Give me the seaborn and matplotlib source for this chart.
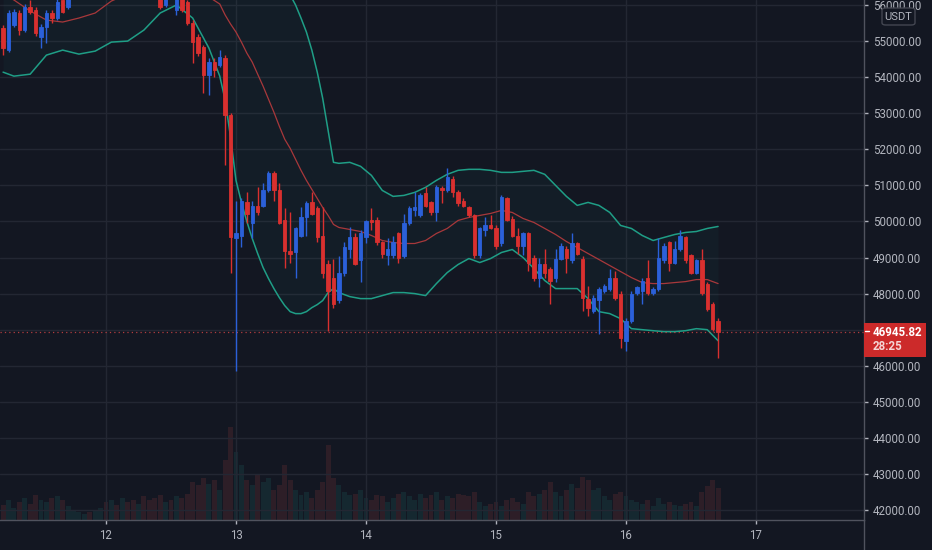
import numpy as np
import pandas as pd
import matplotlib
matplotlib.use("Agg")
import matplotlib.pyplot as plt
import seaborn as sns
from matplotlib.patches import Rectangle, FancyBboxPatch
from matplotlib.lines import Line2D

# ---------------- data ----------------
first_candle_day = 11 + 5 / 24.0   # hourly candles, first one: day 11, 05:00

opens = [55360, 54750, 55440, 55780, 55310, 55940, 55860, 55110, 55390, 55780, 55640, 56140, 55940,
         56200, 56360, 56470, 56640, 56560, 56750, 56830, 56690, 56920, 56810, 56970, 56860, 56690, 56750,
         56560, 56470, 56310, 56000, 56360, 55860, 56220, 56080, 55500, 55110, 54830, 54060, 54420, 54330,
         54530, 52950, 49530, 49610, 50530, 49970, 50440, 50440, 50860, 51330, 50860, 50030, 49190, 49140,
         49610, 50110, 50530, 50360, 49610, 48830, 48440, 47810, 48560, 49250, 49560, 48920, 49560, 50030,
         50030, 49420, 49060, 49060, 49670, 49050, 49970, 50310, 50170, 50780, 50530, 50250, 50920, 50860,
         51190, 50810, 50580, 50390, 50170, 49060, 49750, 49890, 49830, 49390, 50640, 50080, 49610, 49330,
         49670, 49000, 48440, 48830, 48690, 48420, 48970, 49250, 48920, 49390, 48970, 47860, 47530, 47810,
         48080, 48140, 48420, 48000, 46690, 47250, 48030, 48080, 48420, 48030, 48140, 48920, 49420, 48860,
         49250, 49560, 49060, 48580, 48920, 48280, 47720, 47250]
highs = [55440, 55860, 55890, 55860, 56030, 56140, 55940, 55470, 55860, 55860, 56200, 56250, 56310,
         56420, 56540, 56700, 56720, 56820, 56900, 56880, 56980, 56990, 57050, 57020, 56900, 56820, 56800,
         56620, 56530, 56420, 56470, 56530, 56360, 56310, 56140, 55580, 55200, 54890, 54530, 54530, 54750,
         54610, 53000, 50580, 50640, 50810, 50580, 50950, 51060, 51390, 51390, 51060, 50360, 50250, 49860,
         50390, 50580, 50810, 50440, 50390, 48920, 48970, 49030, 49420, 49860, 49690, 49750, 50030, 50360,
         50110, 49470, 49530, 49610, 49720, 50220, 50420, 50810, 50780, 50950, 50580, 51000, 50970, 51470,
         51250, 50860, 50640, 50440, 50220, 49860, 50110, 50170, 49890, 50720, 50690, 50140, 49830, 49720,
         49720, 49060, 49000, 49250, 48750, 49250, 49390, 49310, 49690, 49440, 49030, 48220, 47950, 48190,
         48280, 48690, 48640, 48060, 47310, 48060, 48220, 48420, 48920, 48190, 49530, 49390, 49470, 49470,
         49750, 49610, 49110, 48970, 49250, 48330, 47780, 47310]
lows = [54610, 54690, 55390, 55170, 55250, 55750, 55140, 54810, 54950, 55500, 55580, 55780, 55890,
        56180, 56300, 56410, 56500, 56500, 56690, 56620, 56640, 56740, 56760, 56790, 56630, 56610, 56490,
        56400, 56250, 55890, 55940, 56170, 55720, 55810, 55440, 54390, 54580, 53560, 53500, 54000, 54280,
        51560, 48560, 45860, 49280, 49970, 49530, 50190, 50390, 50810, 50580, 49920, 48720, 48860, 48440,
        49560, 49610, 50170, 49420, 48420, 46970, 47610, 47750, 48500, 49000, 48780, 48310, 49390, 49750,
        49360, 49000, 48780, 49000, 48860, 49000, 49890, 50140, 50110, 50390, 50190, 50000, 50500, 50810,
        50670, 50440, 50390, 50110, 49000, 49000, 49610, 49780, 49250, 49330, 50000, 49560, 49110, 49060,
        48640, 48360, 48170, 48440, 47720, 48310, 48920, 48560, 48860, 49060, 47530, 47390, 47470, 46890,
        48030, 48080, 47830, 46500, 46420, 47190, 47970, 47720, 47970, 47970, 48080, 48860, 48640, 48810,
        49190, 48860, 48530, 48530, 47970, 47530, 46970, 46220]
closes = [54810, 55780, 55800, 55310, 55940, 55800, 55220, 55390, 55780, 55640, 56080, 55800, 56200,
          56360, 56470, 56640, 56560, 56750, 56830, 56690, 56920, 56810, 56970, 56860, 56690, 56750, 56560,
          56470, 56310, 55940, 56360, 56250, 56220, 55860, 55500, 54970, 54670, 54060, 54420, 54190, 54560,
          52950, 49560, 49670, 50580, 50220, 50440, 50250, 50860, 51330, 50860, 49970, 49190, 49110, 49810,
          50110, 50500, 50220, 49560, 48580, 48080, 47720, 48580, 49280, 49560, 48830, 49690, 50000, 49990,
          49420, 49110, 49250, 49420, 49000, 49970, 50360, 50390, 50720, 50440, 50250, 50950, 50860, 51220,
          50810, 50500, 50440, 50170, 49060, 49810, 49890, 49830, 49330, 50670, 50030, 49610, 49330, 49670,
          48860, 48420, 48830, 48580, 48360, 48970, 49330, 49000, 49390, 49110, 47890, 47610, 47890, 48140,
          48220, 48440, 47890, 46780, 47250, 48000, 48170, 48360, 48030, 48140, 49000, 49330, 48860, 49250,
          49610, 48920, 48580, 48920, 48030, 47580, 47030, 46945.82]
volumes = [750, 1000, 600, 900, 1100, 800, 1250, 1000, 900, 1100, 1200, 1000, 700,
           500, 400, 300, 400, 500, 600,
           900, 1000, 750, 1100, 900, 1000, 800,
           1200, 1000, 1100, 1250, 900, 1000, 1200, 1100, 1300,
           1900, 1750, 2100, 1800, 2000, 1500,
           3000, 4650, 3400, 2750, 2000, 1750, 2250, 1900, 2100, 1500, 1750, 2750, 2000, 1500, 1250, 1400,
           1100, 1500, 1900, 3750,
           2100, 1750, 1400, 1250, 1300, 1500, 1100, 1000, 1250, 1200, 900, 1100, 1300, 1400, 1200, 1000,
           1300, 1100, 1250, 1400,
           1000, 1200, 1100, 1300, 1250, 1200, 1400, 900, 700, 800, 900, 700, 1000, 1100, 900, 800,
           1400, 1200, 1300, 1500,
           1900, 1400, 1200, 1500, 1800, 1600, 2150, 2000, 1500, 1600, 1200, 1000, 1300, 1400, 1200, 1000,
           900, 800, 1000, 700,
           1100, 800, 900, 750, 700, 800, 900, 700, 1400, 1700, 2000, 1600]

# Bollinger band readings (candle index, value)
band_idx = [0, 2, 5, 8, 11, 14, 17, 20, 23, 26, 29, 32, 35, 38,
            40, 41, 42, 43, 44, 45, 46, 47, 48, 49, 50, 51, 52, 53, 54, 55, 56, 57, 58, 59, 60, 61, 62,
            64, 66, 68, 70, 72, 74, 76, 78, 80, 82, 84, 86, 88, 90, 92, 94, 96, 98, 100, 102, 104, 106,
            108, 110, 112, 114, 116, 118, 120, 122, 124, 126, 128, 130, 132]
bb_upper = [58500, 58300, 57600, 56600, 56350, 56650, 56850, 57250, 57600, 57650, 57300, 57050, 57200, 57600,
            58000, 58100, 58400, 59300, 59400, 59300, 59300, 59050, 58800, 58350, 57900, 57400, 56900, 56280,
            56000, 55639, 55250, 54750, 54139, 53417, 52528, 51639, 51611,
            51639, 51528, 51278, 50861, 50695, 50722, 50806, 50945, 51139, 51306, 51417, 51445, 51445, 51417,
            51361, 51361, 51389, 51417, 51306, 51000, 50695, 50445, 50528, 50445, 50250, 49889, 49806, 49611,
            49472, 49556, 49639, 49695, 49722, 49806, 49861]
bb_middle = [56306, 56139, 55833, 55583, 55528, 55639, 55778, 56111, 56306, 56472, 56528, 56528, 56417, 56222,
             56028, 55722, 55472, 55250, 54972, 54667, 54417, 54083, 53750, 53389, 53028, 52639, 52278, 52028,
             51722, 51417, 51139, 50889, 50639, 50389, 50167, 49917, 49833,
             49778, 49722, 49611, 49472, 49417, 49389, 49389, 49472, 49667, 49806, 50028, 50111, 50167, 50222,
             50306, 50250, 50083, 49972, 49806, 49639, 49444, 49278, 49111, 48945, 48778, 48611, 48445, 48306,
             48278, 48278, 48306, 48333, 48389, 48389, 48278]
bb_lower = [54139, 54028, 54083, 54611, 54750, 54639, 54722, 54972, 55000, 55306, 55778, 56000, 55639, 54806,
            54028, 53361, 52330, 51139, 50528, 50000, 49528, 49111, 48722, 48417, 48139, 47889, 47667, 47500,
            47445, 47445, 47500, 47611, 47695, 47806, 48028, 48139, 48028,
            47917, 47861, 47861, 47945, 48028, 48028, 48000, 47945, 48278, 48583, 48806, 48972, 48861, 48972,
            49139, 49222, 49000, 48695, 48361, 48139, 48139, 48139, 47861, 47500, 47445, 47306, 47028, 47000,
            46972, 46945, 46945, 46972, 47028, 47000, 46694]

last_price = 46945.82
countdown = "28:25"
currency = "USDT"
price_ticks = list(range(42000, 56001, 1000))
day_ticks = [12, 13, 14, 15, 16, 17]
day_labels = ["12", "13", "14", "15", "16", "17"]

# ---------------- style ----------------
BG = "#131722"
GRID = "#232733"
AXLINE = "#50535e"
TXT = "#b2b5be"
UP = "#2b60d9"
DOWN = "#d9302f"
TEAL = "#1f9e86"
MID = "#a8383b"
VOL_UP = "#26a69a"
VOL_DN = "#ef5350"

sns.set_theme(style="dark", rc={"axes.facecolor": BG, "figure.facecolor": BG})
plt.rcParams["font.family"] = ["Roboto", "DejaVu Sans"]

W, H = 932, 550
fig = plt.figure(figsize=(W / 100, H / 100), dpi=100, facecolor=BG)
rect = [0, 1 - 520 / H, 864 / W, 520 / H]
ax_vol = fig.add_axes(rect)
ax = fig.add_axes(rect, sharex=ax_vol)

n = len(opens)
times = first_candle_day + np.arange(n) / 24.0
o = np.array(opens, float)
c = np.array(closes, float)
hi = np.array(highs, float)
lo = np.array(lows, float)
is_up = c >= o
cols = np.where(is_up, UP, DOWN)

# volume pane (behind)
ax_vol.set_facecolor(BG)
ax_vol.bar(times, volumes, width=0.9 / 24, color=np.where(is_up, VOL_UP, VOL_DN), alpha=0.12, linewidth=0)
ax_vol.set_ylim(0, 26000)
ax_vol.set_yticks([])
for s in ax_vol.spines.values():
    s.set_visible(False)
ax_vol.tick_params(axis="x", which="both", bottom=False, labelbottom=False)

# price pane
ax.set_facecolor("none")
band_t = first_candle_day + np.array(band_idx) / 24.0
bands = pd.DataFrame({"t": band_t, "upper": bb_upper, "middle": bb_middle, "lower": bb_lower})
ax.fill_between(bands["t"], bands["lower"], bands["upper"], color="#26a69a", alpha=0.045, linewidth=0, zorder=1)
sns.lineplot(data=bands, x="t", y="upper", ax=ax, color=TEAL, linewidth=1.1, sort=False, estimator=None, zorder=2)
sns.lineplot(data=bands, x="t", y="lower", ax=ax, color=TEAL, linewidth=1.1, sort=False, estimator=None, zorder=2)
sns.lineplot(data=bands, x="t", y="middle", ax=ax, color=MID, linewidth=0.9, sort=False, estimator=None, zorder=2)

ax.vlines(times, lo, hi, colors=cols, linewidth=1.0, zorder=3)
ax.bar(times, np.abs(c - o), bottom=np.minimum(o, c), width=0.62 / 24, color=cols,
       edgecolor=cols, linewidth=0.6, zorder=4)

ax.axhline(last_price, color="#e84a4a", linewidth=0.9, linestyle=(0, (1, 2.5)), alpha=0.75, zorder=2)

ax.set_xlim(12 - 106 / 130, 12 + 758 / 130)
ax.set_ylim(41724, 56139)
ax.set_xlabel("")
ax.set_ylabel("")

ax.set_xticks(day_ticks)
ax.set_xticklabels(day_labels)
ax.set_yticks(price_ticks)
ax.set_yticklabels([f"{p:.2f}" for p in price_ticks])
ax.yaxis.tick_right()
ax.grid(True, color=GRID, linewidth=1)
ax.set_axisbelow(True)
ax.tick_params(axis="y", colors=TXT, labelsize=8.3, length=3, width=1, pad=3.5, right=True, left=False)
ax.tick_params(axis="x", colors=TXT, labelsize=8.3, length=3, width=1, pad=3.5, bottom=True)
for s in ["top", "left"]:
    ax.spines[s].set_visible(False)
for s in ["right", "bottom"]:
    ax.spines[s].set_visible(True)
    ax.spines[s].set_color(AXLINE)
    ax.spines[s].set_linewidth(1)

# separator continues below the axis line
fig.add_artist(Line2D([864 / W, 864 / W], [0, 1 - 520 / H], transform=fig.transFigure,
                      color=AXLINE, linewidth=1, zorder=5))

# currency badge
fig.add_artist(FancyBboxPatch((882 / W, 1 - 25 / H), 33 / W, 17 / H,
                              boxstyle="round,pad=0,rounding_size=0.004", transform=fig.transFigure,
                              facecolor=BG, edgecolor="#434651", linewidth=1, zorder=6))
fig.text(898.5 / W, 1 - 16.5 / H, currency, color=TXT, fontsize=8, ha="center", va="center", zorder=7)

# last price label
fig.add_artist(Rectangle((864 / W, 1 - 357 / H), 62 / W, 34 / H, transform=fig.transFigure,
                         facecolor="#cc2a2a", edgecolor="none", zorder=6))
fig.add_artist(Line2D([865 / W, 869 / W], [1 - 331 / H, 1 - 331 / H], transform=fig.transFigure,
                      color="white", linewidth=1, zorder=7))
fig.text(873 / W, 1 - 332 / H, f"{last_price:.2f}", color="white", fontsize=8.3, fontweight="semibold",
         ha="left", va="center", zorder=7)
fig.text(873 / W, 1 - 347 / H, countdown, color="#f5d5d5", fontsize=8.3, fontweight="semibold",
         ha="left", va="center", zorder=7)

fig.savefig("out.png", dpi=100, facecolor=BG)
